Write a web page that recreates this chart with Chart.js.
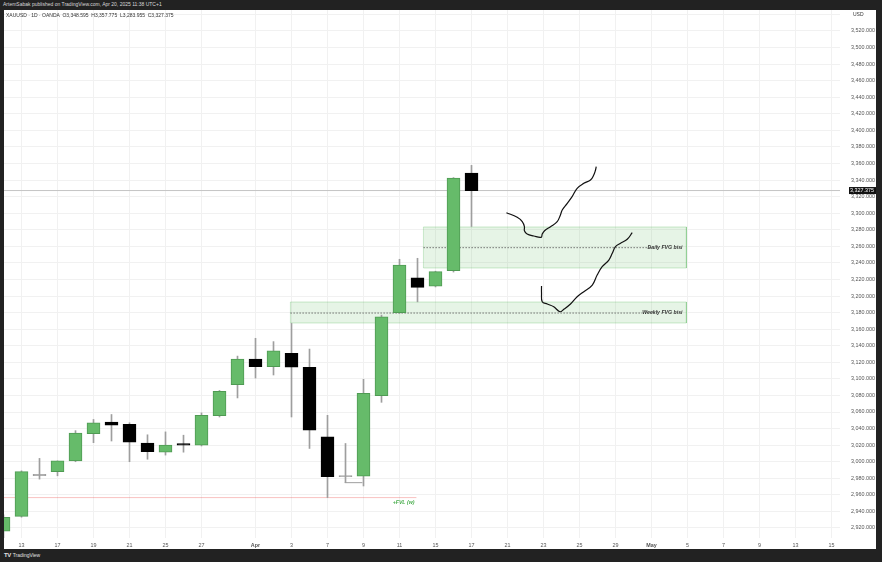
<!DOCTYPE html>
<html>
<head>
<meta charset="utf-8">
<script src="https://cdn.jsdelivr.net/npm/chart.js@4.4.1/dist/chart.umd.min.js"></script>
<style>
  html, body { margin: 0; padding: 0; }
  body { width: 882px; height: 562px; background: #222; position: relative; overflow: hidden;
         font-family: "Liberation Sans", Arial, sans-serif; }
  #pub { position: absolute; left: 3px; top: 2px; font-size: 5px; line-height: 5px; color: #d8d8d8; white-space: nowrap; }
  #frame { position: absolute; left: 4px; top: 10px; width: 872px; height: 539px; background: #fff; }
  #sym { position: absolute; left: 2px; top: 3px; font-size: 5px; line-height: 5px; color: #333; white-space: nowrap; z-index: 2; }
  #usd { position: absolute; left: 849px; top: 2px; font-size: 5px; line-height: 5px; color: #333; z-index: 2; }
  #logo { position: absolute; left: 4px; top: 552px; font-size: 5px; line-height: 6px; color: #e0e0e0; white-space: nowrap; }
  #logo b { font-size: 6px; letter-spacing: -0.5px; margin-right: 2px; }
</style>
</head>
<body>
<div id="pub">ArtemSabak published on TradingView.com, Apr 20, 2025 11:38 UTC+1</div>
<div id="frame">
  <div id="sym">XAUUSD · 1D · OANDA &nbsp;O3,348.595 &nbsp;H3,357.775 &nbsp;L3,283.955 &nbsp;C3,327.375</div>
  <div id="usd">USD</div>
  <canvas id="chart" width="872" height="539"></canvas>
</div>
<div id="logo"><b>TV</b>TradingView</div>
<script>
// daily candles, XAUUSD
const days  = ['Mar 12','Mar 13','Mar 14','Mar 17','Mar 18','Mar 19','Mar 20','Mar 21','Mar 24','Mar 25','Mar 26','Mar 27','Mar 28','Mar 31',
               'Apr 1','Apr 2','Apr 3','Apr 4','Apr 7','Apr 8','Apr 9','Apr 10','Apr 11','Apr 14','Apr 15','Apr 16','Apr 17'];
const open  = [2916, 2934, 2984, 2988, 3001, 3034, 3048, 3045, 3022.5, 3011.5, 3022, 3020, 3055.5, 3093,
               3124, 3114.6, 3131, 3114, 3030, 2982.6, 2982.6, 3079.7, 3180, 3222, 3212, 3230.6, 3348.595];
const high  = [2936, 2989, 3004, 3001, 3037.5, 3051, 3057, 3047, 3032.5, 3036, 3032, 3059, 3086, 3127.5,
               3149, 3145, 3167, 3136, 3056, 3022, 3099.5, 3177, 3244.4, 3245.6, 3230, 3343, 3357.775];
const low   = [2906, 2933, 2979, 2983, 3000, 3023, 3025, 3000, 3003, 3008, 3011.5, 3019, 3054, 3077,
               3101, 3104.7, 3054, 3016, 2956.7, 2974.7, 2970.7, 3071.7, 3179, 3193, 3211, 3229, 3283.955];
const close = [2933, 2988, 2984, 3001, 3034.5, 3047, 3044, 3023.5, 3012, 3020, 3020, 3056, 3085, 3124,
               3114.6, 3134, 3114, 3038, 2982, 2982.6, 3082.6, 3175, 3237.5, 3210.5, 3229.5, 3342.5, 3327.375];

// time axis labels (trading-day index)
const tickPos  = [1, 3, 5, 7, 9, 11, 14, 16, 18, 20, 22, 24, 26, 28, 30, 32, 34, 36, 38, 40, 42, 44, 46];
const tickText = ['13','17','19','21','25','27','Apr','3','7','9','11','15','17','21','23','25','29','May','5','7','9','13','15'];

// fair value gap zones
const fvgNames = ['Daily FVG bisi', 'Weekly FVG bisi'];
const fvgFrom  = [23.33, 15.94];
const fvgTo    = [37.94, 37.94];
const fvgTop   = [3283.4, 3192.8];
const fvgBot   = [3233.9, 3167.5];
const fvgMid   = [3258.4, 3179.5];
const fvgDashTo = [36.04, 35.48];

// weekly low line
const fvlPrice = 2956.7;
const fvlTo = 22.94;

// hand drawn paths (day index, price)
const path1Day = [27.94, 28.54, 28.82, 28.94, 28.94, 29.09, 29.46, 29.87, 29.93, 30.06, 30.39, 30.76, 30.94, 31.04, 31.32, 31.59, 31.87, 32.24, 32.61, 32.79, 32.89, 32.93];
const path1Px  = [3300.6, 3295.1, 3289.8, 3283.7, 3278.9, 3274.9, 3272.5, 3270.9, 3274.9, 3278.9, 3283.7, 3289.8, 3297.9, 3303.9, 3312.0, 3320.0, 3330.1, 3336.1, 3340.1, 3346.1, 3352.2, 3356.2];
const path2Day = [29.89, 29.89, 29.93, 30.21, 30.57, 30.91, 31.13, 31.5, 31.87, 32.24, 32.71, 32.98, 33.26, 33.63, 33.82, 34.0, 34.28, 34.65, 34.93];
const path2Px  = [3212.1, 3203.3, 3193.2, 3190.4, 3187.1, 3181.1, 3184.0, 3190.4, 3199.2, 3205.3, 3213.3, 3225.4, 3235.4, 3243.5, 3251.6, 3259.6, 3263.7, 3268.5, 3276.5];
const bracketDay = [18.96, 19.94];
const bracketPx  = [2974.7, 2974.7];

const X_MIN = 0.0278, X_MAX = 46.472;
const Y_MIN = 2907.9, Y_MAX = 3545.35;

const GREEN = '#66bb6a', GREEN_EDGE = '#4f9a53', GREY = '#9e9e9e';
const FONT = '"Liberation Sans", Arial, sans-serif';

const bodyColor = i => Math.abs(close[i] - open[i]) < 0.5 ? GREY : (close[i] > open[i] ? GREEN : '#000');
const bodyEdge = i => Math.abs(close[i] - open[i]) < 0.5 ? GREY : (close[i] > open[i] ? GREEN_EDGE : '#000');

const bodies = days.map((d, i) => {
  const lo = Math.min(open[i], close[i]), hi = Math.max(open[i], close[i]);
  return { x: i, y: hi - lo < 0.5 ? [lo - 0.7, hi + 0.7] : [lo, hi] };
});
const wicks = days.map((d, i) => ({ x: i, y: [low[i], high[i]] }));
const pts = (xs, ys) => xs.map((v, i) => ({ x: v, y: ys[i] }));
const lastClose = close[close.length - 1];

const datasets = [];
// zones
fvgNames.forEach((n, k) => {
  datasets.push({
    type: 'line', data: pts([fvgFrom[k], fvgTo[k]], [fvgTop[k], fvgTop[k]]),
    borderWidth: 0, pointRadius: 0, fill: { value: fvgBot[k] },
    backgroundColor: 'rgba(76,175,80,0.14)', order: 6
  });
  datasets.push({
    type: 'line',
    data: pts([fvgFrom[k], fvgTo[k], fvgTo[k], fvgFrom[k], fvgFrom[k]], [fvgTop[k], fvgTop[k], fvgBot[k], fvgBot[k], fvgTop[k]]),
    borderColor: 'rgba(76,175,80,0.28)', borderWidth: 1, pointRadius: 0, fill: false, order: 5
  });
  datasets.push({
    type: 'line', data: pts([fvgFrom[k], fvgDashTo[k]], [fvgMid[k], fvgMid[k]]),
    borderColor: '#555', borderWidth: 0.8, borderDash: [1.5, 1.5], pointRadius: 0, fill: false, order: 4
  });
});
// weekly low and last price lines
datasets.push({ type: 'line', data: pts([X_MIN, fvlTo], [fvlPrice, fvlPrice]),
  borderColor: 'rgba(239,83,80,0.35)', borderWidth: 1, pointRadius: 0, fill: false, order: 4 });
datasets.push({ type: 'line', data: pts([X_MIN, X_MAX], [lastClose, lastClose]),
  borderColor: '#c4c4c4', borderWidth: 1, pointRadius: 0, fill: false, order: 4 });
// candles
datasets.push({ type: 'bar', data: wicks, backgroundColor: GREY, barThickness: 1, grouped: false, order: 3 });
datasets.push({ type: 'bar', data: bodies, grouped: false, barThickness: 13, borderWidth: 1, borderSkipped: false,
  backgroundColor: c => bodyColor(c.dataIndex), borderColor: c => bodyEdge(c.dataIndex), order: 2 });
datasets.push({ type: 'line', data: pts(bracketDay, bracketPx), borderColor: GREY, borderWidth: 1, pointRadius: 0, fill: false, order: 1 });
// drawings
[[path1Day, path1Px], [path2Day, path2Px]].forEach(([xs, ys]) => {
  datasets.push({ type: 'line', data: pts(xs, ys), borderColor: '#111', borderWidth: 1.2,
    pointRadius: 0, tension: 0.4, fill: false, order: 0 });
});

const overlay = {
  id: 'overlay',
  afterDatasetsDraw(chart) {
    const { ctx, scales: { x, y } } = chart;
    ctx.save();
    ctx.textAlign = 'right';
    ctx.textBaseline = 'middle';
    ctx.font = 'italic bold 5.2px ' + FONT;
    ctx.fillStyle = '#333';
    fvgNames.forEach((n, k) => ctx.fillText(n, x.getPixelForValue(37.72), y.getPixelForValue(fvgMid[k])));
    ctx.fillStyle = '#4caf50';
    ctx.fillText('+FVL (w)', x.getPixelForValue(22.83), y.getPixelForValue(2951));
    ctx.restore();
  },
  afterDraw(chart) {
    const { ctx, scales: { y } } = chart;
    const py = y.getPixelForValue(lastClose);
    ctx.save();
    ctx.fillStyle = '#111';
    ctx.fillRect(845, py - 3.5, 27, 7);
    ctx.fillStyle = '#fff';
    ctx.font = '5.4px ' + FONT;
    ctx.textAlign = 'right';
    ctx.textBaseline = 'middle';
    ctx.fillText(lastClose.toLocaleString('en-US', { minimumFractionDigits: 3 }), 870, py + 0.3);
    ctx.restore();
  }
};

const noPad = s => { s.paddingTop = 0; s.paddingBottom = 0; s.paddingLeft = 0; s.paddingRight = 0; };

new Chart(document.getElementById('chart'), {
  type: 'bar',
  data: { datasets },
  plugins: [overlay],
  options: {
    responsive: false,
    animation: false,
    events: [],
    layout: { padding: 0 },
    plugins: { legend: { display: false }, tooltip: { enabled: false } },
    scales: {
      x: {
        type: 'linear', min: X_MIN, max: X_MAX, offset: false,
        grid: { color: '#f1f1f1', drawTicks: false, offset: false },
        border: { display: false },
        afterBuildTicks: s => { s.ticks = tickPos.map(v => ({ value: v })); },
        afterFit: s => { s.height = 11; noPad(s); },
        ticks: {
          autoSkip: false, maxRotation: 0, padding: 4, color: '#555',
          font: c => ({ size: 5.4, family: FONT, weight: /[A-Z]/.test(tickText[tickPos.indexOf(c.tick && c.tick.value)] || '') ? 'bold' : 'normal' }),
          callback: v => tickText[tickPos.indexOf(v)]
        }
      },
      y: {
        position: 'right', min: Y_MIN, max: Y_MAX,
        grid: { color: '#f1f1f1', drawTicks: false },
        border: { display: false },
        afterFit: s => { s.width = 36; noPad(s); },
        ticks: {
          stepSize: 20, includeBounds: false, autoSkip: false, crossAlign: 'near', padding: 11,
          color: '#555', font: { size: 5.4, family: FONT },
          callback: v => v > 3530 ? '' : v.toLocaleString('en-US', { minimumFractionDigits: 3 })
        }
      }
    }
  }
});
</script>
</body>
</html>
